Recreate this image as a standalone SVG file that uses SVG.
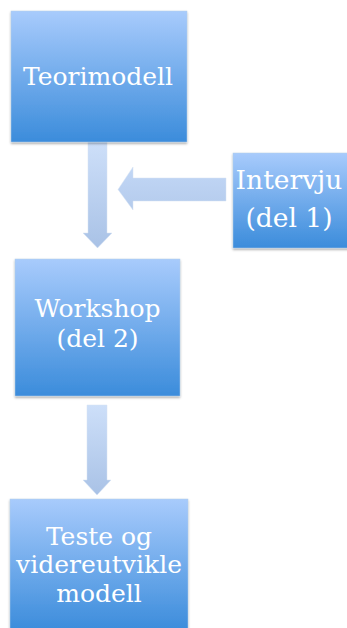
<svg xmlns="http://www.w3.org/2000/svg" width="347" height="628" viewBox="0 0 347 628">
<style>
.box{fill:url(#bg);stroke:#b5cde8;stroke-width:0.5;filter:url(#sh)}
.arr{fill:url(#ag);stroke:#d6e2f2;stroke-width:0.5}
.arrh{fill:url(#agh);stroke:#d6e2f2;stroke-width:0.5}
text{font-family:"DejaVu Serif","Liberation Serif",serif;font-size:25px;fill:#ffffff;text-anchor:middle}
.big{font-size:26.5px}
</style>
<defs>
<linearGradient id="bg" x1="0" y1="0" x2="0" y2="1">
<stop offset="0" stop-color="#a8cbfc"/>
<stop offset="1" stop-color="#3b8cdb"/>
</linearGradient>
<linearGradient id="ag" x1="0" y1="0" x2="0" y2="1">
<stop offset="0" stop-color="#cddff9"/>
<stop offset="1" stop-color="#a9c2e6"/>
</linearGradient>
<linearGradient id="agh" x1="0" y1="0" x2="0" y2="1">
<stop offset="0" stop-color="#c2d7f6"/>
<stop offset="1" stop-color="#b4cbec"/>
</linearGradient>
<filter id="sh" x="-10%" y="-10%" width="120%" height="120%">
<feDropShadow dx="0" dy="1.5" stdDeviation="1.2" flood-color="#000" flood-opacity="0.35"/>
</filter>
</defs>
<g id="connectors">
<path class="arr" d="M88,142 H107 V233 H112 L97.5,248 L83,233 H88 Z"/>
<path class="arrh" d="M226,178 V201 H133 V210 L118,189.5 L133,167 V178 Z"/>
<path class="arr" d="M87,405 H107 V480 H111 L97,495 L83,480 H87 Z"/>
</g>
<g id="teorimodell">
<rect class="box" x="11" y="11" width="176" height="131"/>
<text x="98" y="85">Teorimodell</text>
</g>
<g id="intervju">
<rect class="box" x="233" y="153" width="116" height="95"/>
<text class="big" x="289" y="189">Intervju</text>
<text class="big" x="289" y="227">(del 1)</text>
</g>
<g id="workshop">
<rect class="box" x="15" y="259" width="165" height="137"/>
<text x="97.5" y="317">Workshop</text>
<text x="97.5" y="347">(del 2)</text>
</g>
<g id="teste">
<rect class="box" x="10" y="499" width="178" height="132"/>
<text x="99" y="545">Teste og</text>
<text x="99" y="573">videreutvikle</text>
<text x="99" y="602">modell</text>
</g>
</svg>
